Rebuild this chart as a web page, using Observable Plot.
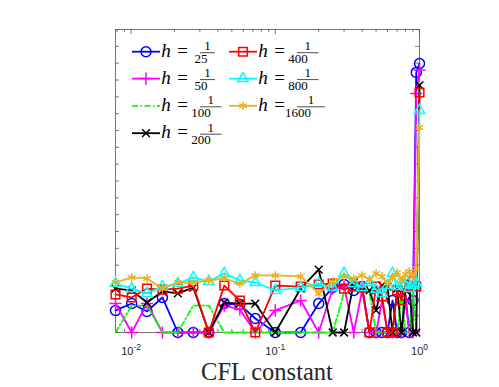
<!DOCTYPE html>
<html><head><meta charset="utf-8">
<script src="https://cdn.jsdelivr.net/npm/d3@7"></script>
<script src="https://cdn.jsdelivr.net/npm/@observablehq/plot@0.6"></script>
<style>body{margin:0;background:#fff}#chart{width:499px;height:387px}</style>
</head><body><div id="chart"></div>
<script>
// CFL constants (x)
const cfl = [0.0078, 0.0101, 0.0129, 0.0165, 0.0211, 0.0270, 0.0346, 0.0443, 0.0568, 0.0727,
  0.10, 0.15, 0.20, 0.25, 0.30, 0.35, 0.40, 0.45, 0.50, 0.55, 0.60, 0.65, 0.70, 0.75, 0.80, 0.85, 0.90, 0.95, 1.00];
// series: one per mesh size h = 1/N
const hDenoms = ["25", "50", "100", "200", "400", "800", "1600"];
const s25   = [1.31,1.72,1.25,2.08,0,0,0,1.72,1.66,0.83,0,0,1.72,2.67,2.85,2.5,2.73,0,0,0,0,1.9,0,0,2.2,0,1.9,15.45,15.98];
const s50   = [1.72,0,1.72,0,0,0,0,1.6,1.37,0,1.31,1.9,0,2.61,2.73,0,2.5,0,0,1.9,0,0,0,0,1.9,0,0,14.2,15.6];
const s100  = [0,1.6,1.6,0,0,1.6,1.6,0,0,0,0,0,0,0,2.38,2.5,2.61,2.38,0,0,0,0,0,2.2,0,0,2.5,0,14.97];
const s200  = [2.61,2.5,1.78,2.44,2.32,2.67,0,1.78,1.72,1.72,0,2.61,3.74,0,0,2.97,2.67,2.5,1.31,2.79,2.73,0,2.61,0,2.5,2.73,0,0,14.68];
const s400  = [2.26,2.08,2.61,2.55,2.61,2.79,0,2.79,1.9,0,2.79,2.73,2.85,2.91,2.61,2.73,2.67,0,2.73,2.14,0,0,2.5,1.9,2.85,2.73,3.03,2.73,14.26];
const s800  = [2.91,2.61,2.32,2.73,2.91,3.27,3.03,3.51,3.09,2.97,2.5,2.67,2.91,2.67,3.51,2.91,2.67,2.97,2.55,2.32,2.79,3.51,2.73,2.85,3.15,2.61,2.79,2.91,13.19];
const s1600 = [2.97,3.27,3.21,2.61,2.97,2.97,3.09,3.21,2.91,3.39,3.39,3.33,2.32,3.03,3.33,3.21,3.39,3.15,3.51,3.33,2.91,3.27,3.57,3.09,3.45,3.62,3.33,3.8,12.18];
const seriesValues = [s25, s50, s100, s200, s400, s800, s1600];
const colors = ["#0000ff", "#ff00ff", "#00ff00", "#000000", "#ff0000", "#00ffff", "#edb120"];
const symbols = ["circle", "plus", null, "times", "square2", "triangle2", "asterisk"];
const symbolR = {circle: 5, plus: 4, times: 3.6, square2: 5.5, triangle2: 5, asterisk: 4};
const d3symbols = {circle: d3.symbolCircle, plus: d3.symbolPlus, times: d3.symbolTimes, square2: d3.symbolSquare2, triangle2: d3.symbolTriangle2, asterisk: d3.symbolAsterisk};
// ticks
const xMajorTicks = [0.01, 0.1, 1];
const xTickExponents = ["-2", "-1", "0"];
const xMinorTicks = [0.008, 0.009, 0.02, 0.03, 0.04, 0.05, 0.06, 0.07, 0.08, 0.09, 0.2, 0.3, 0.4, 0.5, 0.6, 0.7, 0.8, 0.9];
const yTicks = [0,1,2,3,4,5,6,7,8,9,10,11,12,13,14,15,16,17,18];
const xLabel = "CFL constant";

const W = 499, H = 387, mL = 115, mR = 80, mT = 29, mB = 55;
const pw = W - mL - mR, ph = H - mT - mB;
const axisColor = "#555";

const rows = [];
seriesValues.forEach((vals, i) => vals.forEach((v, j) => rows.push({cfl: cfl[j], val: v, s: i})));

const marks = [
  Plot.tickY(yTicks, {y: d => d, insetRight: pw - 4, stroke: axisColor, strokeWidth: 0.8}),
  Plot.tickY(yTicks, {y: d => d, insetLeft: pw - 4, stroke: axisColor, strokeWidth: 0.8}),
  Plot.tickX(xMajorTicks, {x: d => d, insetTop: ph - 5, stroke: axisColor, strokeWidth: 0.8}),
  Plot.tickX(xMajorTicks, {x: d => d, insetBottom: ph - 5, stroke: axisColor, strokeWidth: 0.8}),
  Plot.tickX(xMinorTicks, {x: d => d, insetTop: ph - 3, stroke: axisColor, strokeWidth: 0.8}),
  Plot.tickX(xMinorTicks, {x: d => d, insetBottom: ph - 3, stroke: axisColor, strokeWidth: 0.8}),
  Plot.frame({stroke: axisColor, strokeWidth: 0.8}),
  Plot.axisX(xMajorTicks, {tickSize: 0, tickPadding: 14.5, label: null, tickFormat: () => "10",
    fontSize: 11, fontFamily: "Liberation Sans, Arial, sans-serif", fill: "#262626"})
];
seriesValues.forEach((vals, i) => {
  const data = rows.filter(r => r.s === i);
  marks.push(Plot.line(data, {x: "cfl", y: "val", stroke: colors[i], strokeWidth: 1.8,
    strokeDasharray: i === 2 ? "6,2.5,1.5,2.5" : null}));
  if (symbols[i]) marks.push(Plot.dot(data, {x: "cfl", y: "val", symbol: symbols[i], stroke: colors[i],
    fill: "none", r: symbolR[symbols[i]], strokeWidth: 1.5}));
});

const chart = Plot.plot({
  width: W, height: H, marginLeft: mL, marginRight: mR, marginTop: mT, marginBottom: mB,
  style: {background: "#fff", overflow: "visible"},
  x: {type: "log", domain: [0.0078, 1]},
  y: {domain: [0, 18], axis: null},
  marks
});
document.getElementById("chart").appendChild(chart);

const svg = d3.select(chart);
// superscript exponents on x tick labels
svg.selectAll('g[aria-label="x-axis tick label"] text').each(function(d, i) {
  const t = d3.select(this);
  t.text("10");
  t.append("tspan").attr("dy", "-0.55em").attr("font-size", "8.5px").text(xTickExponents[i]);
});
// x-axis title
svg.append("text").attr("x", mL + pw / 2).attr("y", 379.5).attr("text-anchor", "middle")
  .attr("font-family", "Liberation Serif, serif").attr("font-size", 24.5).attr("fill", "#262626")
  .text(xLabel);

// legend
const legend = svg.append("g").attr("class", "legend");
const rowY = [51.7, 78.6, 105.8, 133.2];
const colX = [132, 229];
hDenoms.forEach((den, i) => {
  const col = i < 4 ? 0 : 1, row = i < 4 ? i : i - 4;
  const x0 = colX[col], y = rowY[row];
  legend.append("line").attr("x1", x0).attr("x2", x0 + 28).attr("y1", y).attr("y2", y)
    .attr("stroke", colors[i]).attr("stroke-width", 1.8)
    .attr("stroke-dasharray", i === 2 ? "6,2.5,1.5,2.5" : null);
  if (symbols[i]) {
    const r = symbolR[symbols[i]];
    legend.append("path").attr("d", d3.symbol(d3symbols[symbols[i]], r * r * Math.PI)())
      .attr("transform", `translate(${x0 + 14},${y})`)
      .attr("fill", "none").attr("stroke", colors[i]).attr("stroke-width", 1.5);
  }
  const g = legend.append("g").attr("font-family", "Liberation Serif, serif").attr("fill", "#000");
  g.append("text").attr("x", x0 + 34).attr("y", y + 5).attr("font-size", 19).attr("font-style", "italic").text("h");
  g.append("text").attr("x", x0 + 50.5).attr("y", y + 5).attr("font-size", 19).attr("text-anchor", "middle").text("=");
  const fx = x0 + 68;
  const den_t = g.append("text").attr("x", fx + 1).attr("y", y + 11).attr("font-size", 13).text(den);
  const w = den_t.node().getComputedTextLength();
  g.append("text").attr("x", fx + 1 + w / 2).attr("y", y - 1.5).attr("font-size", 13).attr("text-anchor", "middle").text("1");
  g.append("line").attr("x1", fx).attr("x2", fx + w + 2).attr("y1", y + 1).attr("y2", y + 1)
    .attr("stroke", "#000").attr("stroke-width", 0.7);
});
</script></body></html>
